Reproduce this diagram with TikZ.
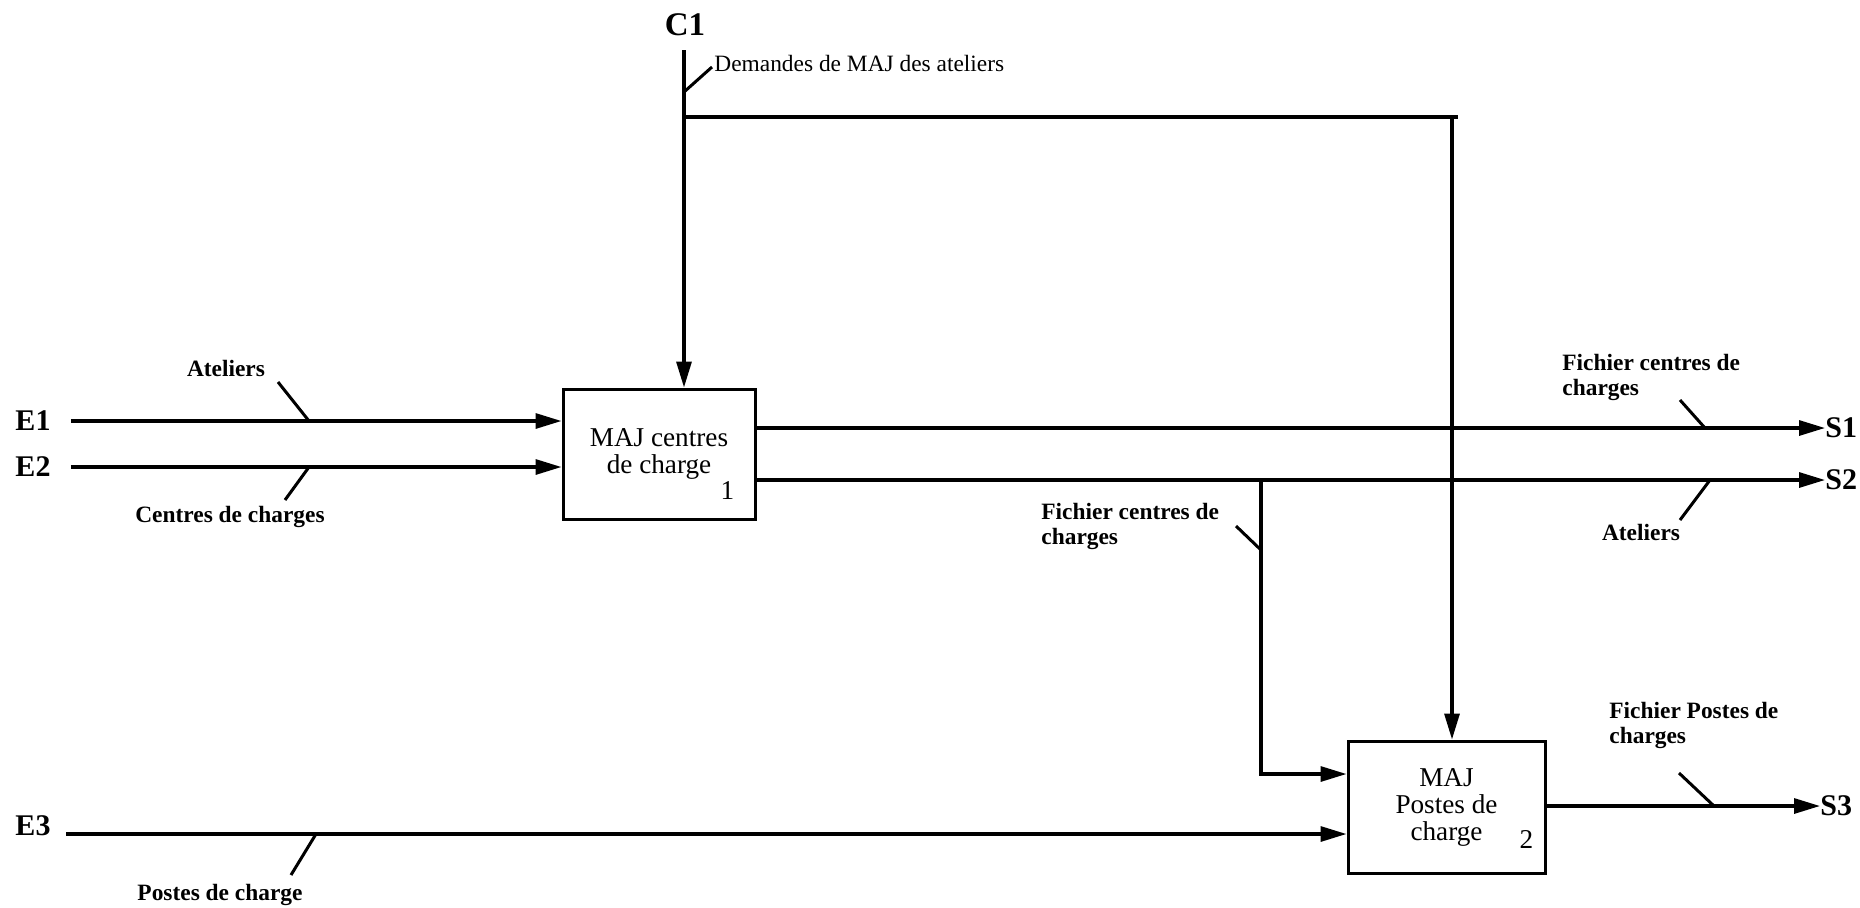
\documentclass[tikz,border=0pt]{standalone}
\usepackage{fontspec}
\setmainfont{Liberation Serif}
\usetikzlibrary{arrows.meta,positioning}

\begin{document}
\begin{tikzpicture}[
    x=0.5pt, y=-0.5pt,
    >={Triangle[length=13pt,width=7.5pt]},
    act/.style={rectangle,draw,line width=1.5pt,inner sep=0pt,align=center,font=\fontsize{13.6}{13.5}\selectfont},
    actnum/.style={anchor=base east,inner sep=0pt,font=\fontsize{13.6}{13.5}\selectfont},
    io/.style={inner sep=0pt,font=\fontsize{15}{15}\selectfont\bfseries},
    lbl/.style={inner sep=0pt,align=left,font=\fontsize{11.7}{12.5}\selectfont\bfseries},
    flow/.style={line width=1.6pt},
    tick/.style={line width=1.5pt}
  ]
  \path[fill=white,use as bounding box] (0,0) rectangle (1860,907);

  % activities
  \node[act,minimum width=96pt,minimum height=65pt] (box1) at (659,454) {MAJ centres\\de charge};
  \node[act,minimum width=98.5pt,minimum height=66pt] (box2) at (1446.5,807) {MAJ\\Postes de\\charge};
  \node[actnum] (num1) at ([xshift=-11pt,yshift=10.5pt]box1.south east) {1};
  \node[actnum] (num2) at ([xshift=-6.5pt,yshift=13pt]box2.south east) {2};

  % inputs, outputs, control
  \node[io] (E1) at (33,421) {E1};
  \node[io] (E2) at (33,467) {E2};
  \node[io] (E3) at (33,826) {E3};
  \node[io,anchor=west] (S1) at (1825,428) {S1};
  \node[io,anchor=west] (S2) at (1825,480) {S2};
  \node[io,anchor=west] (S3) at (1820,806) {S3};
  \node[io,font=\fontsize{16.5}{16.5}\selectfont\bfseries] (C1) at (685,25) {C1};

  \coordinate (e3) at (66,834);
  \coordinate (c1top) at (684,50);
  \coordinate (fork) at (684,117);
  \coordinate (knee) at (1452,117);
  \coordinate (split) at (1261,480);
  \coordinate (bend) at (1261,774);

  \draw[flow,->] ([xshift=10pt]E1.east) -- (E1.east -| box1.west);
  \draw[flow,->] ([xshift=10pt]E2.east) -- (E2.east -| box1.west);
  \draw[flow,->] (e3) -- (e3 -| box2.west);
  \draw[flow,->] (box1.east |- S1.west) -- (S1.west);
  \draw[flow,->] (box1.east |- S2.west) -- (S2.west);
  \draw[flow,->] (box2.east |- S3.west) -- (S3.west);
  \draw[flow,->] (c1top) -- (c1top |- box1.north);
  \draw[flow] (fork) -- ([xshift=3pt]knee);
  \draw[flow,->] (knee) -- (knee |- box2.north);
  \draw[flow,->] (split) -- (bend) -- (bend -| box2.west);

  % arrow labels
  \node[lbl] (lAtel) at (226,368) {Ateliers};
  \node[lbl] (lCentres) at (230,517) {Centres de charges};
  \node[lbl,anchor=west,font=\fontsize{11.7}{12.5}\selectfont] (lDemandes) at (714,63) {Demandes de MAJ des ateliers};
  \node[lbl,anchor=west] (lFichS1) at (1562,377) {Fichier centres de\\charges};
  \node[lbl] (lAtelS2) at (1641,532) {Ateliers};
  \node[lbl,anchor=west] (lFichBr) at (1041,526.5) {Fichier centres de\\charges};
  \node[lbl] (lPostes) at (220,895) {Postes de charge};
  \node[lbl,anchor=west] (lFichS3) at (1609,725.5) {Fichier Postes de\\charges};

  \coordinate (tAtelA) at (309,421);   \coordinate (tAtelB) at (278,382);
  \coordinate (tCentA) at (309,467);   \coordinate (tCentB) at (285,500);
  \coordinate (tDemA) at (684,92);     \coordinate (tDemB) at (712,67);
  \coordinate (tFS1A) at (1705,428);   \coordinate (tFS1B) at (1680,400);
  \coordinate (tAS2A) at (1710,480);   \coordinate (tAS2B) at (1680,520);
  \coordinate (tFBrA) at (1261,550);   \coordinate (tFBrB) at (1236,526);
  \coordinate (tPosA) at (316,834);    \coordinate (tPosB) at (291,875);
  \coordinate (tFS3A) at (1714,806);   \coordinate (tFS3B) at (1679,773);
  \draw[tick] (tAtelA) -- (tAtelB);
  \draw[tick] (tCentA) -- (tCentB);
  \draw[tick] (tDemA) -- (tDemB);
  \draw[tick] (tFS1A) -- (tFS1B);
  \draw[tick] (tAS2A) -- (tAS2B);
  \draw[tick] (tFBrA) -- (tFBrB);
  \draw[tick] (tPosA) -- (tPosB);
  \draw[tick] (tFS3A) -- (tFS3B);
\end{tikzpicture}
\end{document}
